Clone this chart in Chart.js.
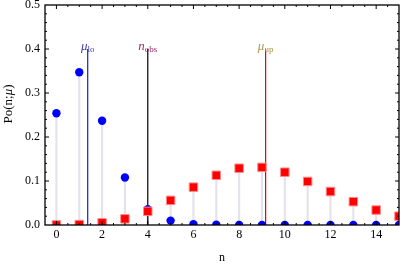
<!DOCTYPE html>
<html>
<head>
<meta charset="utf-8">
<script src="https://cdn.jsdelivr.net/npm/chart.js@4/dist/chart.umd.min.js"></script>
<style>
  html, body { margin: 0; padding: 0; background: #fff; }
</style>
</head>
<body>
<canvas id="c" width="400" height="267"></canvas>
<script>
// n values and the two Poisson curves
const nValues = [0, 1, 2, 3, 4, 5, 6, 7, 8, 9, 10, 11, 12, 13, 14, 15];
const poLow = [0.254, 0.347, 0.237, 0.108, 0.036, 0.010, 0.002, 0.0005, 0, 0, 0, 0, 0, 0, 0, 0];
const poUp = [0.0001, 0.001, 0.005, 0.014, 0.031, 0.056, 0.086, 0.113, 0.129, 0.131, 0.120, 0.099, 0.076, 0.053, 0.034, 0.020];

// marker lines: mu_lo, n_obs, mu_up
const markerX = [1.37, 4, 9.16];
const markerTop = 0.4;
const markerMain = ['μ', 'n', 'μ'];
const markerSub = ['lo', 'obs', 'up'];

const xTicks = [0, 2, 4, 6, 8, 10, 12, 14];
const yTicks = [0, 0.1, 0.2, 0.3, 0.4, 0.5];

const serif = '"Liberation Serif", "DejaVu Serif", serif';
const lineColors = ['#1a1ad0', '#000000', '#e00000'];
const labelColors = ['#3c3cae', '#9a2f62', '#a89848'];

const pts = arr => nValues.map((n, i) => ({ x: n, y: arr[i] }));
const stems = arr => ({
  type: 'bar',
  data: pts(arr),
  backgroundColor: '#e3e3f0',
  barThickness: 1.5,
  grouped: false,
  clip: 0,
  order: 5
});

const datasets = [
  {
    type: 'scatter', data: pts(poUp), order: 0, clip: 0,
    pointStyle: 'rect', pointRadius: 6, pointHoverRadius: 6,
    backgroundColor: '#ff0000', borderColor: '#ff8a8a', borderWidth: 1
  },
  {
    type: 'scatter', data: pts(poLow), order: 1, clip: 0,
    pointStyle: 'circle', pointRadius: 4.2, pointHoverRadius: 4.2,
    backgroundColor: '#0000ff', borderColor: '#0000ff', borderWidth: 0
  },
  stems(poLow),
  stems(poUp)
];
markerX.forEach((x, i) => {
  datasets.push({
    type: 'line', order: 3,
    data: [{ x: x, y: 0 }, { x: x, y: markerTop }],
    borderColor: lineColors[i], borderWidth: 1.2, pointRadius: 0
  });
});

// frame with inward ticks, axis title and the marker labels
const frame = {
  id: 'frame',
  afterDraw(chart) {
    const ctx = chart.ctx, a = chart.chartArea;
    const xs = chart.scales.x, ys = chart.scales.y;
    ctx.save();
    ctx.strokeStyle = '#000';
    ctx.lineWidth = 1.3;
    ctx.strokeRect(a.left, a.top, a.right - a.left, a.bottom - a.top);
    ctx.lineWidth = 1;
    ctx.beginPath();
    for (let k = -1; k <= 30; k++) {
      const v = k * 0.5, px = xs.getPixelForValue(v);
      if (px < a.left + 1 || px > a.right - 1) continue;
      const len = (k % 4 === 0) ? 4 : 2;
      ctx.moveTo(px, a.bottom); ctx.lineTo(px, a.bottom - len);
      ctx.moveTo(px, a.top); ctx.lineTo(px, a.top + len);
    }
    for (let k = 1; k < 25; k++) {
      const py = ys.getPixelForValue(k * 0.02);
      const len = (k % 5 === 0) ? 4 : 2;
      ctx.moveTo(a.left, py); ctx.lineTo(a.left + len, py);
      ctx.moveTo(a.right, py); ctx.lineTo(a.right - len, py);
    }
    ctx.stroke();

    // y title "Po(n;μ)" with italic mu
    ctx.save();
    ctx.translate(12, 104);
    ctx.rotate(-Math.PI / 2);
    ctx.fillStyle = '#000';
    ctx.textBaseline = 'alphabetic';
    const parts = [['Po(n;', ''], ['μ', 'italic '], [')', '']];
    let tw = 0;
    parts.forEach(p => { ctx.font = p[1] + '13px ' + serif; tw += ctx.measureText(p[0]).width; });
    let cx = -tw / 2;
    parts.forEach(p => {
      ctx.font = p[1] + '13px ' + serif;
      ctx.fillText(p[0], cx, 0);
      cx += ctx.measureText(p[0]).width;
    });
    ctx.restore();

    markerX.forEach((x, i) => {
      const px = xs.getPixelForValue(x), py = ys.getPixelForValue(markerTop);
      ctx.font = 'italic 13px ' + serif;
      const w1 = ctx.measureText(markerMain[i]).width;
      ctx.font = '9px ' + serif;
      const w2 = ctx.measureText(markerSub[i]).width;
      const x0 = px - (w1 + w2) / 2;
      ctx.fillStyle = labelColors[i];
      ctx.textBaseline = 'alphabetic';
      ctx.font = 'italic 13px ' + serif;
      ctx.fillText(markerMain[i], x0, py + 1);
      ctx.font = '9px ' + serif;
      ctx.fillText(markerSub[i], x0 + w1, py + 3);
    });
    ctx.restore();
  }
};

new Chart(document.getElementById('c'), {
  data: { datasets: datasets },
  options: {
    responsive: false,
    animation: false,
    devicePixelRatio: 1,
    layout: { autoPadding: false, padding: { top: 5, right: 1, left: 0, bottom: 0 } },
    plugins: { legend: { display: false }, tooltip: { enabled: false } },
    scales: {
      x: {
        type: 'linear', min: -0.5, max: 15, offset: false,
        grid: { display: false, drawTicks: false, offset: false },
        border: { display: false },
        afterBuildTicks: s => { s.ticks = xTicks.map(v => ({ value: v })); },
        afterFit: s => { s.height = 42; s.paddingLeft = 0; s.paddingRight = 0; },
        ticks: { padding: 3, color: '#000', font: { family: serif, size: 12 }, maxRotation: 0 },
        title: { display: true, text: 'n', color: '#000', font: { family: serif, size: 12 }, padding: { top: 4, bottom: 2 } }
      },
      y: {
        type: 'linear', min: 0, max: 0.5,
        grid: { display: false, drawTicks: false },
        border: { display: false },
        afterBuildTicks: s => { s.ticks = yTicks.map(v => ({ value: v })); },
        afterFit: s => { s.width = 45; s.paddingTop = 0; s.paddingBottom = 0; },
        ticks: { padding: 5, color: '#000', font: { family: serif, size: 12 }, callback: v => v.toFixed(1) }
      }
    }
  },
  plugins: [frame]
});
</script>
</body>
</html>
